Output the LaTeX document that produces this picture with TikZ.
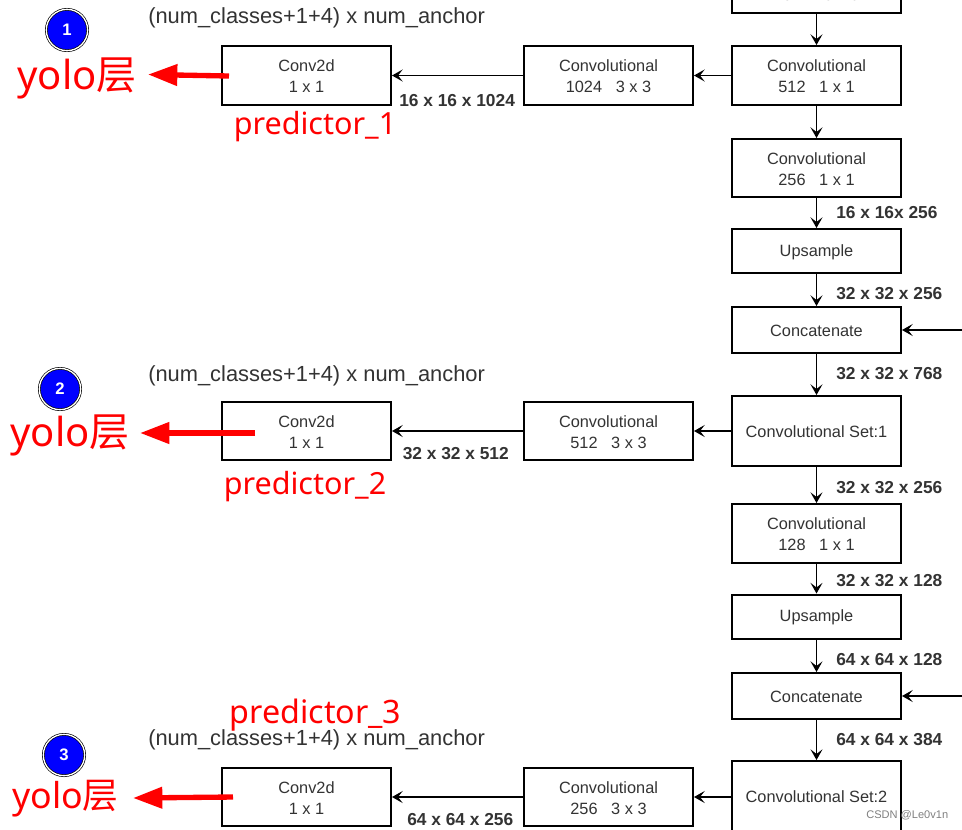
\documentclass[tikz,border=0pt]{standalone}
\usepackage{fontspec}
\setmainfont{Liberation Sans}
\newfontfamily\redfont{Noto Sans}
\newfontfamily\cjkfont{Noto Sans CJK SC}
\usetikzlibrary{arrows.meta}
\definecolor{txt}{HTML}{333333}
\newcommand\lw[1]{\raisebox{-.75pt}[\height][\depth]{#1}}
\tikzset{
  bx/.style={draw=black,line width=1.5pt,fill=white,text=txt,align=center,inner sep=0pt,
    minimum width=126.75pt,minimum height=#1*0.75pt,font=\fontsize{12.25}{15.75}\selectfont},
  conn/.style={draw=black,line width=1.2pt,-{Stealth[length=8pt,width=9pt,inset=3.5pt]}},
  dims/.style={text=txt,inner sep=0pt,anchor=west,font=\bfseries\fontsize{13}{15}\selectfont},
  formula/.style={text=txt,inner sep=0pt,anchor=west,font=\fontsize{16.4}{19}\selectfont},
  redlab/.style={text=red,inner sep=0pt,font=\redfont\fontsize{22.9}{28}\selectfont},
  redlabbig/.style={text=red,inner sep=0pt,font=\redfont\fontsize{24.2}{28}\selectfont},
  yolo/.style={text=red,inner sep=0pt,font=\redfont\fontsize{30}{34}\selectfont},
  yolosmall/.style={text=red,inner sep=0pt,font=\redfont\fontsize{26.8}{32}\selectfont},
  badge/.style={circle,draw=black,double=white,double distance=1pt,line width=.5pt,fill=blue,text=white,
    minimum size=31pt,inner sep=0pt,font=\bfseries\fontsize{12.5}{15}\selectfont},
  redarrow/.style={draw=red,line width=4pt,-{Triangle[length=22pt,width=15.5pt]}},
}
\begin{document}
\begin{tikzpicture}[x=0.75pt,y=-0.75pt]
\clip (0,0) rectangle (962,829);
\fill[white] (0,0) rectangle (962,829);
% right column
\node[bx=59] (top) at (816.5,-16.5) {\lw{Convolutional}\\\lw{1024\ \ \ 3 x 3}};
\node[bx=59] (c512) at (816.5,75.5) {\lw{Convolutional}\\\lw{512\ \ \ 1 x 1}};
\node[bx=58] (c256) at (816.5,168) {\lw{Convolutional}\\\lw{256\ \ \ 1 x 1}};
\node[bx=44] (up1) at (816.5,251) {\lw{Upsample}};
\node[bx=46] (cat1) at (816.5,330) {\lw{Concatenate}};
\node[bx=70] (set1) at (816.5,431) {\lw{Convolutional Set:1}};
\node[bx=59] (c128) at (816.5,533.5) {\lw{Convolutional}\\\lw{128\ \ \ 1 x 1}};
\node[bx=44] (up2) at (816.5,616.5) {\lw{Upsample}};
\node[bx=46] (cat2) at (816.5,696) {\lw{Concatenate}};
\node[bx=70] (set2) at (816.5,796) {\lw{Convolutional Set:2}};
% middle column
\node[bx=59] (m1) at (608.5,75.5) {\lw{Convolutional}\\\lw{1024\ \ \ 3 x 3}};
\node[bx=58] (m2) at (608.5,431) {\lw{Convolutional}\\\lw{512\ \ \ 3 x 3}};
\node[bx=58] (m3) at (608.5,797) {\lw{Convolutional}\\\lw{256\ \ \ 3 x 3}};
% left column
\node[bx=59] (p1) at (306.5,75.5) {\lw{Conv2d}\\\lw{1 x 1}};
\node[bx=58] (p2) at (306.5,431) {\lw{Conv2d}\\\lw{1 x 1}};
\node[bx=58] (p3) at (306.5,797) {\lw{Conv2d}\\\lw{1 x 1}};
% vertical connectors
\foreach \a/\b in {top/c512,c512/c256,c256/up1,up1/cat1,cat1/set1,set1/c128,c128/up2,up2/cat2,cat2/set2}
  \draw[conn] (\a) -- (\b);
% horizontal connectors
\foreach \a/\b in {c512/m1,m1/p1,set1/m2,m2/p2,m3/p3}
  \draw[conn] (\a) -- (\b);
\draw[conn] (set2.west |- m3.east) -- (m3.east);
\coordinate (in1) at (962,330);
\coordinate (in2) at (962,696);
\draw[conn] (in1) -- (cat1);
\draw[conn] (in2) -- (cat2);
% dimension labels
\node[dims] (d1) at (399,100.5) {16 x 16 x 1024};
\node[dims] (d2) at (402.5,454) {32 x 32 x 512};
\node[dims] (d3) at (407,819.5) {64 x 64 x 256};
\node[dims] (d4) at (836,212.5) {16 x 16x 256};
\node[dims] (d5) at (836,293.5) {32 x 32 x 256};
\node[dims] (d6) at (836,373.5) {32 x 32 x 768};
\node[dims] (d7) at (836,487.5) {32 x 32 x 256};
\node[dims] (d8) at (836,580.5) {32 x 32 x 128};
\node[dims] (d9) at (836,659.5) {64 x 64 x 128};
\node[dims] (d10) at (836,739.5) {64 x 64 x 384};
% formulas
\node[formula] (f1) at (148,18) {(num\_classes+1+4) x num\_anchor};
\node[formula] (f2) at (148,376) {(num\_classes+1+4) x num\_anchor};
\node[formula] (f3) at (148,740) {(num\_classes+1+4) x num\_anchor};
% predictor labels
\node[redlab] (r1) at (315,127) {predictor\_1};
\node[redlab] (r2) at (305,487) {predictor\_2};
\node[redlabbig] (r3) at (315.5,715) {predictor\_3};
% yolo labels
\node[yolo] (y1) at (77,78) {yolo{\cjkfont 层}};
\node[yolo] (y2) at (70,435) {yolo{\cjkfont 层}};
\node[yolosmall] (y3) at (65.5,799) {yolo{\cjkfont 层}};
% badges
\node[badge] (b1) at (67,30) {1};
\node[badge] (b2) at (60,389) {2};
\node[badge] (b3) at (64,755) {3};
% red arrows
\coordinate (s1) at (229,76);
\coordinate (e1) at (148,74.5);
\coordinate (s2) at (255,433);
\coordinate (e2) at (140,433);
\coordinate (s3) at (233,797);
\coordinate (e3) at (133,798);
\draw[redarrow] (s1) -- (e1);
\draw[redarrow] (s2) -- (e2);
\draw[redarrow] (s3) -- (e3);
% watermark
\node[text=black!50,inner sep=0pt,anchor=west,font=\fontsize{8.3}{10}\selectfont] (wm) at (866,815) {CSDN @Le0v1n};
\end{tikzpicture}
\end{document}
